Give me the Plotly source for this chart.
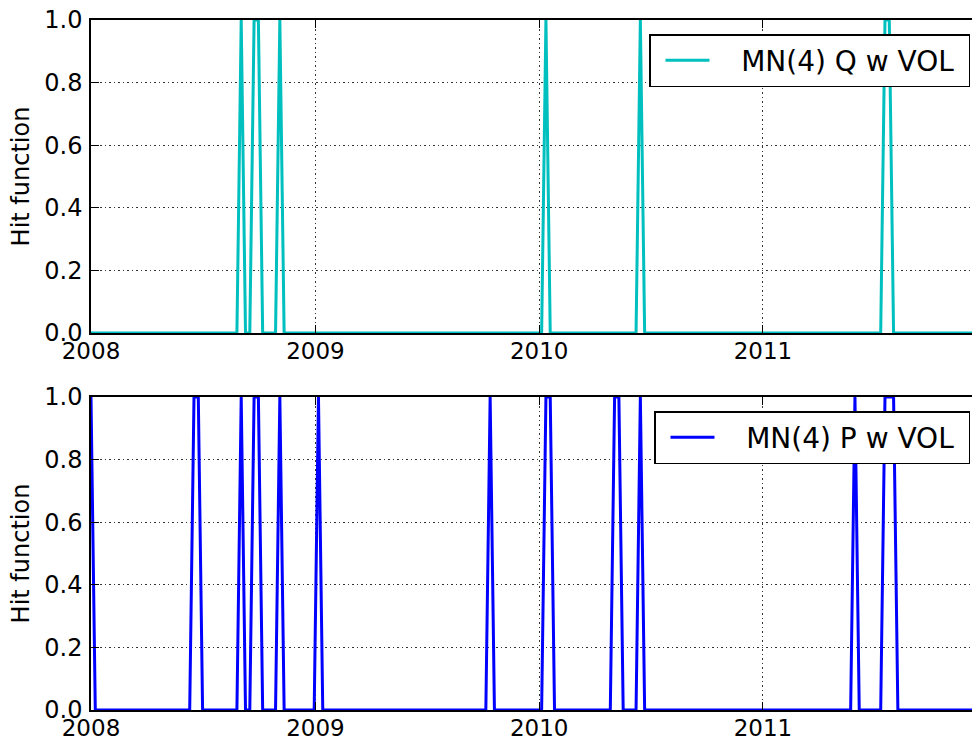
import pandas as pd
import plotly.graph_objects as go
from plotly.subplots import make_subplots

# Weekly observation grid
start_date = "2008-01-01"
n_weeks = 210
x_end = "2011-12-07 22:00"

# Weeks where the VaR model registered a hit (hit function = 1)
q_hit_dates = ["2008-09-02", "2008-09-23", "2008-09-30", "2008-11-04",
               "2010-01-12", "2010-06-15", "2011-07-19", "2011-07-26"]
p_hit_dates = ["2008-01-01", "2008-06-17", "2008-06-24", "2008-09-02",
               "2008-09-23", "2008-09-30", "2008-11-04", "2009-01-06",
               "2009-10-13", "2010-01-12", "2010-01-19", "2010-05-04",
               "2010-05-11", "2010-06-15", "2011-05-31", "2011-07-19",
               "2011-07-26", "2011-08-02"]

series_names = ["MN(4) Q w VOL", "MN(4) P w VOL"]
series_colors = ["#00BFBF", "#0000FF"]
year_ticks = ["2008-01-01", "2009-01-01", "2010-01-01", "2011-01-01"]
year_labels = ["2008", "2009", "2010", "2011"]
y_ticks = [0.0, 0.2, 0.4, 0.6, 0.8, 1.0]

dates = pd.date_range(start_date, periods=n_weeks, freq="7D")


def hit_series(hit_dates):
    hits = set(pd.to_datetime(hit_dates))
    return [1 if d in hits else 0 for d in dates]


q_hits = hit_series(q_hit_dates)
p_hits = hit_series(p_hit_dates)

FONT = "DejaVu Sans"
NBSP = "\u00a0"


def legend_label(name):
    # pad the entry text so the legend key sits apart from it
    return NBSP * 3 + name + NBSP


fig = make_subplots(rows=2, cols=1, vertical_spacing=0.0928)

fig.add_trace(go.Scatter(x=dates, y=q_hits, mode="lines",
                         name=legend_label(series_names[0]),
                         line=dict(color=series_colors[0], width=3),
                         legend="legend", showlegend=True), row=1, col=1)
fig.add_trace(go.Scatter(x=dates, y=p_hits, mode="lines",
                         name=legend_label(series_names[1]),
                         line=dict(color=series_colors[1], width=3),
                         legend="legend2", showlegend=True), row=2, col=1)

h_plot = 690.0
top_dom = [(710 - 333) / h_plot, 1.0]
bot_dom = [0.0, (710 - 397) / h_plot]

common_x = dict(
    range=[start_date, x_end], tickmode="array", tickvals=year_ticks,
    ticktext=year_labels, showline=True, linecolor="black", linewidth=1.5,
    mirror="ticks", ticks="inside", ticklen=8, tickwidth=1, tickcolor="black",
    showgrid=True, gridcolor="#333333", gridwidth=1, griddash="1.5px,3px",
    tickfont=dict(family=FONT, size=23, color="black"), zeroline=False,
    ticklabelstandoff=-3, automargin=False,
)
common_y = dict(
    range=[0, 1], tickmode="array", tickvals=y_ticks,
    ticktext=[f"{v:.1f}" for v in y_ticks], showline=True, linecolor="black",
    linewidth=1.5, mirror=False, ticks="inside", ticklen=8, tickwidth=1,
    tickcolor="black", showgrid=True, gridcolor="#333333", gridwidth=1,
    griddash="1.5px,3px", zeroline=False,
    tickfont=dict(family=FONT, size=24, color="black"),
    title=dict(text="Hit function", font=dict(family=FONT, size=24, color="black"),
               standoff=8),
    ticklabelstandoff=2, automargin=False,
)

fig.update_xaxes(**common_x)
fig.update_yaxes(**common_y)
fig.update_layout(yaxis=dict(domain=top_dom), yaxis2=dict(domain=bot_dom))

legend_style = dict(
    xanchor="right", yanchor="top", x=(970 - 91) / 881.0,
    bgcolor="white", bordercolor="black", borderwidth=1.5,
    font=dict(family=FONT, size=28, color="black"), itemwidth=44,
    indentation=10,
)

fig.update_layout(
    width=972, height=743,
    margin=dict(l=91, r=0, t=20, b=33, autoexpand=False),
    plot_bgcolor="white", paper_bgcolor="white",
    font=dict(family=FONT, color="black"),
    showlegend=True,
    legend=dict(y=(710 - 34) / h_plot, **legend_style),
    legend2=dict(y=(710 - 411) / h_plot, **legend_style),
)

fig.write_html("out.html")
